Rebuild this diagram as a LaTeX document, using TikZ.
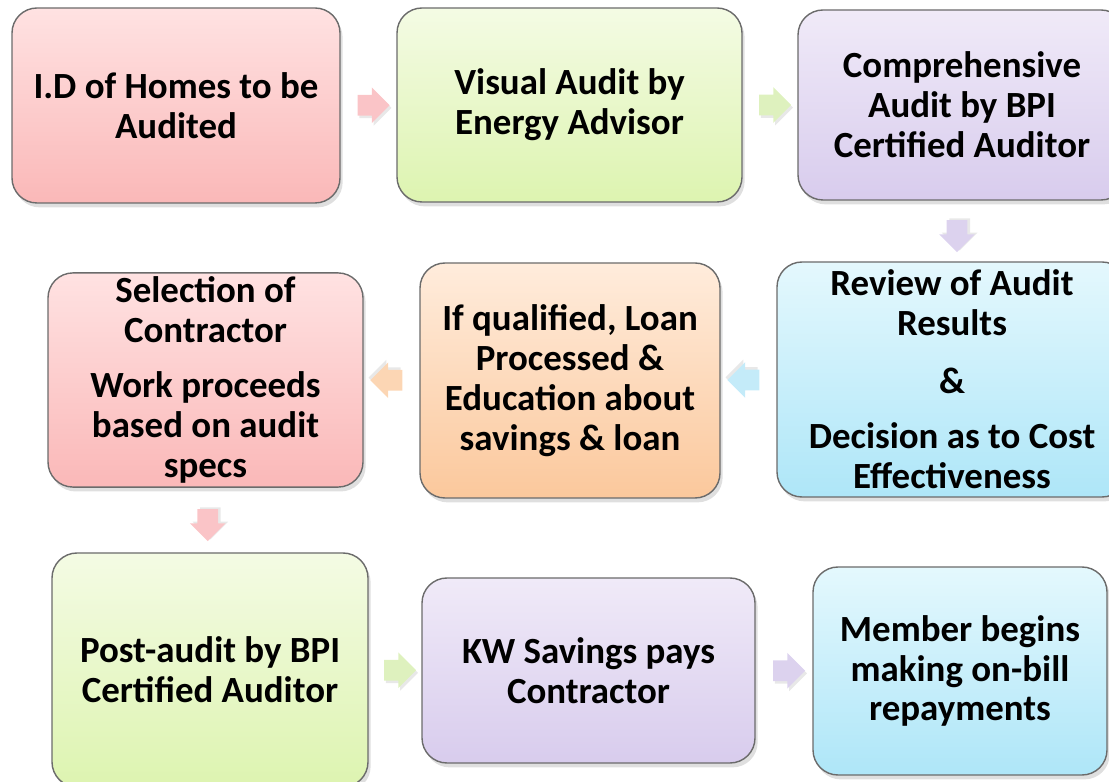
\documentclass[tikz,border=0pt]{standalone}
\usepackage{xcolor}
\usepackage{fontspec}
\setmainfont{Carlito}
\usepackage{tikz}
\usetikzlibrary{shapes.arrows, shadows, calc}
\definecolor{pinktop}{RGB}{255,226,226}
\definecolor{pinkbot}{RGB}{250,184,184}
\definecolor{greentop}{RGB}{244,251,228}
\definecolor{greenbot}{RGB}{221,244,176}
\definecolor{purpletop}{RGB}{240,234,248}
\definecolor{purplebot}{RGB}{216,204,237}
\definecolor{orangetop}{RGB}{255,236,220}
\definecolor{orangebot}{RGB}{251,200,156}
\definecolor{bluetop}{RGB}{228,248,253}
\definecolor{bluebot}{RGB}{174,230,248}
\definecolor{pinkarrow}{RGB}{250,196,199}
\definecolor{greenarrow}{RGB}{222,241,190}
\definecolor{purplearrow}{RGB}{220,210,238}
\definecolor{orangearrow}{RGB}{252,214,180}
\definecolor{bluearrow}{RGB}{196,235,249}
\tikzset{
    stagebox/.style={rectangle, rounded corners=0.5cm, draw=black!58, line width=0.8pt, align=center, inner sep=2pt, font=\bfseries\fontsize{21}{22.7}\selectfont, drop shadow={opacity=0.25, shadow xshift=1.5pt, shadow yshift=-2.5pt}},
    pinkbox/.style={stagebox, top color=pinktop, bottom color=pinkbot},
    greenbox/.style={stagebox, top color=greentop, bottom color=greenbot},
    purplebox/.style={stagebox, top color=purpletop, bottom color=purplebot},
    orangebox/.style={stagebox, top color=orangetop, bottom color=orangebot},
    bluebox/.style={stagebox, top color=bluetop, bottom color=bluebot},
    flowarrow/.style={single arrow, draw=none, minimum height=0.64cm, inner xsep=0pt, inner ysep=0.2cm, single arrow head extend=0.15cm},
    rightarrow/.style={flowarrow, drop shadow={opacity=0.18, shadow xshift=1pt, shadow yshift=-1.5pt}},
    leftarrow/.style={flowarrow, rotate=180, drop shadow={opacity=0.18, shadow xshift=-1pt, shadow yshift=1.5pt}},
    downarrow/.style={flowarrow, rotate=-90, drop shadow={opacity=0.18, shadow xshift=1.5pt, shadow yshift=1pt}}
}

\begin{document}
\begin{tikzpicture}
    \useasboundingbox (0,0) rectangle (22.18,15.62);

    % Top row
    \node[pinkbox, minimum width=6.56cm, minimum height=3.9cm] (idhomes) at (3.52,13.51) {I.D of Homes to be\\ Audited};
    \node[greenbox, minimum width=6.9cm, minimum height=3.88cm] (visual) at (11.39,13.52) {Visual Audit by\\ Energy Advisor};
    \node[purplebox, minimum width=6.56cm, minimum height=3.8cm] (comp) at (19.24,13.52) {Comprehensive\\ Audit by BPI\\ Certified Auditor};

    % Middle row
    \node[bluebox, minimum width=7cm, minimum height=4.7cm] (review) at (19.04,8.03) {Review of Audit\\ Results\\[10pt] \&\\[9pt] Decision as to Cost\\ Effectiveness};
    \node[orangebox, minimum width=6cm, minimum height=4.7cm] (loan) at (11.4,8.01) {If qualified, Loan\\ Processed \&\\ Education about\\ savings \& loan};
    \node[pinkbox, minimum width=6.3cm, minimum height=4.28cm] (select) at (4.11,8.02) {Selection of\\ Contractor\\[9pt] Work proceeds\\ based on audit\\ specs};

    % Bottom row
    \node[greenbox, minimum width=6.32cm, minimum height=4.68cm] (post) at (4.2,2.22) {Post-audit by BPI\\ Certified Auditor};
    \node[purplebox, minimum width=6.66cm, minimum height=3.7cm] (pays) at (11.77,2.21) {KW Savings pays\\ Contractor};
    \node[bluebox, minimum width=5.88cm, minimum height=4.16cm] (repay) at (19.2,2.2) {Member begins\\ making on-bill\\ repayments};

    % Block arrows between the steps
    \node[rightarrow, fill=pinkarrow] (a1) at ($(idhomes.east)!0.5!(visual.west)$) {};
    \node[rightarrow, fill=greenarrow] (a2) at ($(visual.east)!0.5!(comp.west)$) {};
    \node[downarrow, fill=purplearrow] (a3) at ($(comp.south)!0.5!(review.north)$) {};
    \node[leftarrow, fill=bluearrow] (a4) at ($(review.west)!0.5!(loan.east)$) {};
    \node[leftarrow, fill=orangearrow] (a5) at ($(loan.west)!0.5!(select.east)$) {};
    \node[downarrow, fill=pinkarrow] (a6) at ($(select.south)!0.5!(post.north)$) {};
    \node[rightarrow, fill=greenarrow] (a7) at ($(post.east)!0.5!(pays.west)$) {};
    \node[rightarrow, fill=purplearrow] (a8) at ($(pays.east)!0.5!(repay.west)$) {};
\end{tikzpicture}
\end{document}
